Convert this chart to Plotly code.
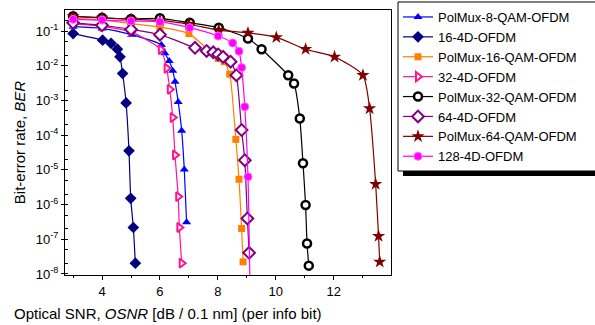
import plotly.graph_objects as go

# ---- data (OSNR in dB, BER as log10 values) ----
pm8qam_x = [3.0, 4.0, 5.02, 6.05, 6.17, 6.32, 6.44, 6.52, 6.63, 6.75, 6.84, 6.92]
pm8qam_y = [-0.87, -0.92, -1.10, -1.40, -1.64, -1.86, -2.14, -2.46, -3.04, -3.87, -4.99, -6.51]

d16_x = [3.0, 4.02, 4.31, 4.53, 4.62, 4.71, 4.83, 4.93, 4.99, 5.08, 5.15]
d16_y = [-1.07, -1.26, -1.35, -1.52, -1.74, -2.22, -3.07, -4.45, -5.82, -6.66, -7.69]

pm16qam_x = [3.0, 4.0, 5.0, 6.0, 7.0, 8.01, 8.22, 8.41, 8.62, 8.73, 8.82, 8.87]
pm16qam_y = [-0.63, -0.68, -0.78, -0.88, -1.07, -1.79, -1.88, -2.24, -4.12, -5.27, -6.69, -7.65]

d32_x = [3.0, 4.0, 5.0, 6.03, 6.23, 6.34, 6.44, 6.52, 6.63, 6.67, 6.75]
d32_y = [-0.78, -0.86, -1.02, -1.53, -2.07, -2.68, -3.49, -4.57, -5.77, -6.66, -7.69]

pm32qam_x = [3.0, 4.0, 5.0, 6.0, 7.03, 8.03, 9.04, 9.51, 10.43, 10.63, 10.83, 10.94, 11.03, 11.08, 11.14]
pm32qam_y = [-0.57, -0.61, -0.65, -0.63, -0.76, -0.90, -1.21, -1.52, -2.27, -2.51, -3.52, -4.81, -6.01, -7.12, -7.76]

d64_x = [3.0, 4.0, 5.0, 6.0, 7.21, 7.61, 7.84, 8.01, 8.18, 8.44, 8.64, 8.82, 8.93, 9.02, 9.08]
d64_y = [-0.76, -0.83, -0.95, -1.10, -1.48, -1.57, -1.61, -1.67, -1.74, -1.88, -2.27, -3.85, -4.72, -6.40, -7.39]

pm64qam_x = [3.0, 4.0, 5.0, 6.0, 7.0, 8.03, 9.04, 10.02, 11.03, 12.03, 13.01, 13.24, 13.45, 13.55, 13.59]
pm64qam_y = [-0.58, -0.62, -0.66, -0.69, -0.80, -0.97, -1.05, -1.18, -1.52, -1.74, -2.27, -3.23, -5.41, -6.91, -7.65]

d128_x = [3.0, 4.0, 5.0, 6.0, 7.03, 8.01, 8.51, 8.73, 8.82, 8.93, 9.04, 9.12]
d128_y = [-0.66, -0.68, -0.71, -0.73, -0.90, -1.14, -1.34, -1.58, -2.05, -3.18, -5.20, -9.0]

y_tick_exp = [-1, -2, -3, -4, -5, -6, -7, -8]
x_tick_vals = [4, 6, 8, 10, 12]

series = [
    ("PolMux-8-QAM-OFDM", pm8qam_x, pm8qam_y, "#0000FF", dict(symbol="triangle-up", size=8, color="#0000FF")),
    ("16-4D-OFDM", d16_x, d16_y, "#000080", dict(symbol="diamond", size=9, color="#000080")),
    ("PolMux-16-QAM-OFDM", pm16qam_x, pm16qam_y, "#FF8000", dict(symbol="square", size=7, color="#FF8000")),
    ("32-4D-OFDM", d32_x, d32_y, "#FF1493", dict(symbol="triangle-right", size=8, color="white", line=dict(color="#FF1493", width=2))),
    ("PolMux-32-QAM-OFDM", pm32qam_x, pm32qam_y, "#000000", dict(symbol="circle", size=8, color="white", line=dict(color="black", width=2.5))),
    ("64-4D-OFDM", d64_x, d64_y, "#800080", dict(symbol="diamond", size=9, color="white", line=dict(color="#800080", width=2))),
    ("PolMux-64-QAM-OFDM", pm64qam_x, pm64qam_y, "#800000", dict(symbol="star", size=10, color="#800000")),
    ("128-4D-OFDM", d128_x, d128_y, "#FF00FF", dict(symbol="circle", size=8, color="#FF00FF", line=dict(color="#FF66FF", width=1))),
]

fig = go.Figure()
for name, xs, ys, col, mk in series:
    fig.add_trace(go.Scatter(
        x=xs, y=[10 ** v for v in ys], name=name, mode="lines+markers",
        line=dict(color=col, width=1.2, shape="spline", smoothing=0.6),
        marker=mk,
    ))

FONT = "Arial, Liberation Sans, sans-serif"
L, R, T, B = 65, 391, 10, 275
W, H = 595, 325

def px2paper_x(p):
    return (p - L) / (R - L)

def px2paper_y(p):
    return (B - p) / (B - T)

fig.update_layout(
    width=W, height=H,
    margin=dict(l=L, r=W - R, t=T, b=H - B, autoexpand=False),
    paper_bgcolor="white", plot_bgcolor="white",
    font=dict(family=FONT, size=13, color="black"),
    showlegend=True,
    legend=dict(
        x=px2paper_x(398), y=px2paper_y(2), xanchor="left", yanchor="top",
        bgcolor="rgba(0,0,0,0)", borderwidth=0,
        font=dict(family=FONT, size=13, color="black"),
        tracegroupgap=0, itemwidth=30, maxheight=1,
    ),
    xaxis=dict(
        range=[2.72, 13.98], tickvals=x_tick_vals, ticktext=[str(v) for v in x_tick_vals],
        ticks="outside", ticklen=4, tickcolor="black",
        minor=dict(ticks="outside", ticklen=2, dtick=1, tick0=0, tickcolor="black"),
        showline=True, linecolor="black", linewidth=1, mirror=True,
        showgrid=False, zeroline=False,
        tickfont=dict(family=FONT, size=13),
    ),
    yaxis=dict(
        type="log", range=[-8.03, -0.39],
        tickvals=[10 ** e for e in y_tick_exp],
        ticktext=["10<sup>%d</sup>" % e for e in y_tick_exp],
        ticks="outside", ticklen=3, tickcolor="black",
        minor=dict(ticks="inside", ticklen=3, tickcolor="black", showgrid=False),
        showline=True, linecolor="black", linewidth=1, mirror=True,
        showgrid=False, zeroline=False,
        tickfont=dict(family=FONT, size=13),
        title=dict(text="Bit-error rate, <i>BER</i>", font=dict(family=FONT, size=15), standoff=6),
    ),
)

# legend frame with drop shadow (frame runs past the right edge as in the original)
fig.add_shape(
    type="rect", xref="paper", yref="paper", layer="above",
    x0=px2paper_x(403), x1=px2paper_x(605), y0=px2paper_y(176), y1=px2paper_y(8),
    fillcolor="black", line=dict(width=0),
)
fig.add_shape(
    type="rect", xref="paper", yref="paper", layer="above",
    x0=px2paper_x(398), x1=px2paper_x(605), y0=px2paper_y(171), y1=px2paper_y(2),
    fillcolor="white", line=dict(color="black", width=1),
)

# x-axis title (offset to the left as in the original)
fig.add_annotation(
    text="Optical SNR, <i>OSNR</i> [dB / 0.1 nm] (per info bit)",
    xref="paper", yref="paper", x=px2paper_x(168), y=px2paper_y(313),
    xanchor="center", yanchor="middle", showarrow=False,
    font=dict(family=FONT, size=15, color="black"),
)

fig.write_html(
    "out.html",
    config={"displayModeBar": False},
    post_script="document.body.style.margin='0px';document.body.style.padding='0px';",
)
